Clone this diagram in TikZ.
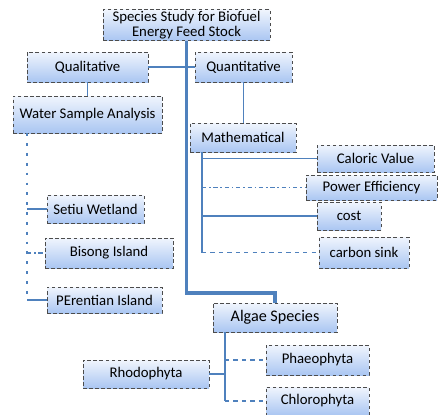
\documentclass[tikz,border=0pt]{standalone}
\usepackage{fontspec}
\setmainfont{Carlito}
\usetikzlibrary{calc}
\definecolor{LinkBlue}{RGB}{79,129,189}
\definecolor{BoxTop}{RGB}{240,245,253}
\definecolor{BoxBot}{RGB}{170,198,242}
\tikzset{
  spbox/.style={draw=black!70, dash pattern=on 2.5pt off 1.8pt, top color=BoxTop, bottom color=BoxBot,
    align=center, font=\fontsize{10.5}{11}\selectfont, inner sep=1pt},
  sz/.style 2 args={minimum width=#1*0.025cm, minimum height=#2*0.025cm},
  link/.style={LinkBlue, line width=1.1pt},
  trunk/.style={LinkBlue, line width=2.2pt},
  railmark/.style={dash pattern=on 2pt off 5pt},
}

\begin{document}
\begin{tikzpicture}[x=0.025cm, y=-0.025cm]
  \useasboundingbox (0,0) rectangle (448,415);
  \node[spbox, sz={167}{30}] (title) at (186.5,25) {Species Study for Biofuel\\Energy Feed Stock};
  \node[spbox, sz={121}{30}] (qual) at (87.5,67) {Qualitative};
  \node[spbox, sz={97}{30}] (quant) at (243.5,67) {Quantitative};
  \node[spbox, sz={149}{37}] (water) at (87.5,114.5) {Water Sample Analysis};
  \node[spbox, sz={106}{29}] (math) at (243,137.5) {Mathematical};
  \node[spbox, sz={117}{27}] (caloric) at (375.5,158.5) {Caloric Value};
  \node[spbox, sz={131}{25}] (power) at (371.5,187.5) {Power Efficiency};
  \node[spbox, sz={64}{28}] (cost) at (349,216) {cost};
  \node[spbox, sz={90}{31}] (carbon) at (364,252.5) {carbon sink};
  \node[spbox, sz={97}{28}] (setiu) at (95.5,209) {Setiu Wetland};
  \node[spbox, sz={128}{30}] (bisong) at (109,253) {Bisong Island};
  \node[spbox, sz={115}{26}] (perentian) at (104.5,300) {PErentian Island};
  \node[spbox, sz={124}{29}, font=\fontsize{11.5}{12}\selectfont] (algae) at (275,317.5) {Algae Species};
  \node[spbox, sz={126}{28}] (rhodo) at (146,374) {Rhodophyta};
  \node[spbox, sz={103}{30}] (phaeo) at (317.5,360) {Phaeophyta};
  \node[spbox, sz={103}{28}] (chloro) at (317.5,401) {Chlorophyta};

  \coordinate (tk) at (0,293);
  \coordinate (wr) at (27,0);
  \coordinate (mr) at (202,0);
  \coordinate (ar) at (225,0);

  \draw[trunk] (title.south) -- (title.south |- tk) -| (algae.north);
  \draw[link] (qual) -- (quant);
  \draw[link] (qual) -- (water);
  \draw[link] (quant.south) -- (quant.south |- math.north);

  \draw[link, railmark] (water.south -| wr) -- (perentian.west -| wr);
  \draw[link] (setiu.west -| wr) -- (setiu.west);
  \draw[link, dash dot] (bisong.west -| wr) -- (bisong.west);
  \draw[link] (perentian.west -| wr) -- (perentian.west);

  \draw[link] (math.south -| mr) -- (carbon.west -| mr);
  \draw[link] (caloric.west -| mr) -- (caloric.west);
  \draw[link, dash dot] (power.west -| mr) -- (power.west);
  \draw[link] (cost.west -| mr) -- (cost.west);
  \draw[link, dashed] (carbon.west -| mr) -- (carbon.west);

  \draw[link] (algae.south -| ar) -- (chloro.west -| ar);
  \draw[link] (rhodo.east) -- (rhodo.east -| ar);
  \draw[link, dashed] (phaeo.west -| ar) -- (phaeo.west);
  \draw[link, dashed] (chloro.west -| ar) -- (chloro.west);
\end{tikzpicture}
\end{document}
